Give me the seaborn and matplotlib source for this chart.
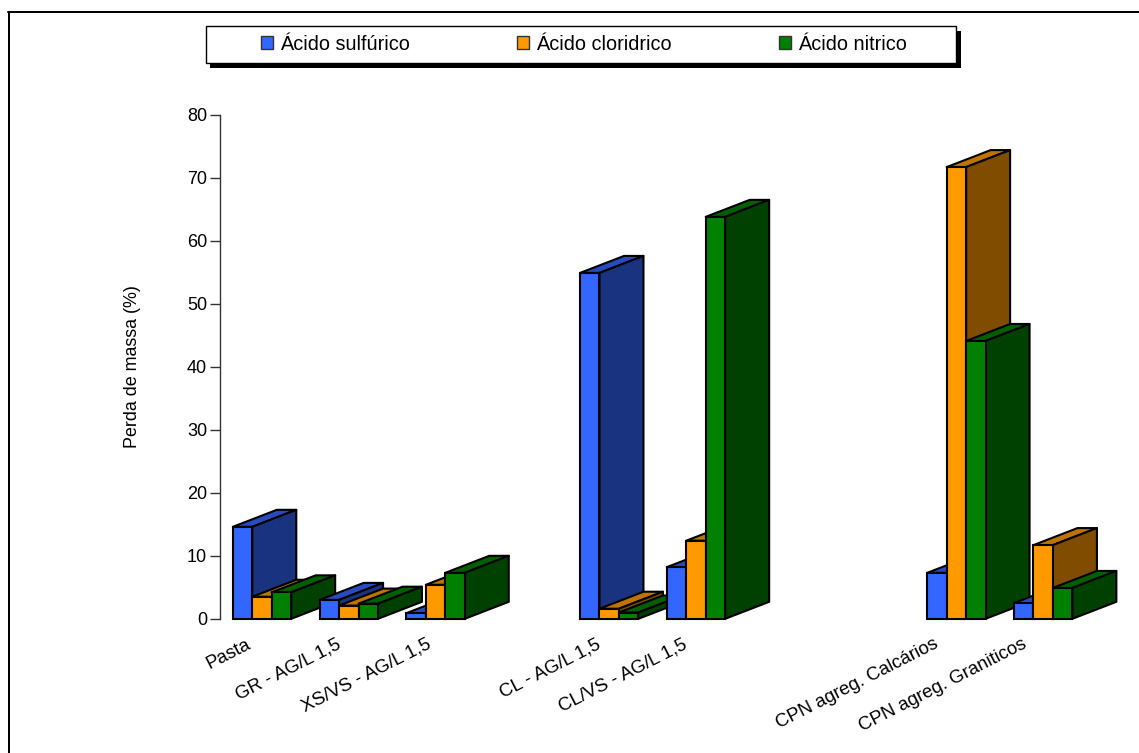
#acid attack chart - mass loss per mix
import numpy as np
import pandas as pd
import matplotlib.pyplot as plt
from matplotlib.patches import Polygon, Rectangle
from matplotlib.transforms import ScaledTranslation
import seaborn as sns

#data
categories = ["Pasta", "GR - AG/L 1,5", "XS/VS - AG/L 1,5", "CL - AG/L 1,5", "CL/VS - AG/L 1,5",
              "CPN agreg. Calcários", "CPN agreg. Graniticos"]
# empty slots on the axis between the groups
slots = ["Pasta", "GR - AG/L 1,5", "XS/VS - AG/L 1,5", " ", "CL - AG/L 1,5", "CL/VS - AG/L 1,5",
         "  ", "   ", "CPN agreg. Calcários", "CPN agreg. Graniticos"]
acids = ["Ácido sulfúrico", "Ácido cloridrico", "Ácido nitrico"]
sulfurico = [14.6, 3.0, 0.9, 54.9, 8.2, 7.3, 2.5]
cloridrico = [3.5, 2.1, 5.4, 1.6, 12.4, 71.7, 11.7]
nitrico = [4.2, 2.4, 7.3, 1.0, 63.8, 44.1, 4.9]

front_colors = ["#3366FF", "#FF9900", "#008000"]
top_colors = ["#264CBF", "#BF7300", "#006000"]
side_colors = ["#1A3380", "#804D00", "#004000"]

df = pd.DataFrame({"cat": categories, acids[0]: sulfurico, acids[1]: cloridrico, acids[2]: nitrico})
df = df.melt(id_vars="cat", var_name="acid", value_name="loss")

sns.set_theme(style="white")
plt.rcParams["font.family"] = ["Liberation Sans", "DejaVu Sans"]

W, H = 1139, 753
fig = plt.figure(figsize=(W / 100, H / 100), dpi=100)
slot_w = 86.8
ax = fig.add_axes([219.6 / W, 1 - 618.8 / H, slot_w * 10 / W, 504 / H])
sns.barplot(data=df, x="cat", y="loss", hue="acid", order=slots, hue_order=acids,
            palette=front_colors, width=0.672, gap=0, saturation=1, legend=False,
            edgecolor="black", linewidth=1.5, ax=ax)
# axis line sits one pixel left of the first slot edge
ax.set_xlim(-0.5 + 1 / slot_w, 9.5 + 1 / slot_w)
ax.set_ylim(0, 80)

#3d look, depth is in pixels
depth_x = 44 / slot_w
depth_y = 17 / (504 / 80)
z = 3
bars = []
for i, cont in enumerate(ax.containers):
    for b in cont:
        if b.get_height() > 0:
            bars.append((b.get_x(), i, b))
bars.sort(key=lambda t: t[0])
for x0, i, b in bars:
    x1 = x0 + b.get_width()
    h = b.get_height()
    ax.add_patch(Polygon([(x0, h), (x1, h), (x1 + depth_x, h + depth_y), (x0 + depth_x, h + depth_y)],
                         closed=True, fc=top_colors[i], ec="black", lw=1.5, joinstyle="round",
                         zorder=z, clip_on=False))
    ax.add_patch(Polygon([(x1, 0), (x1 + depth_x, depth_y), (x1 + depth_x, h + depth_y), (x1, h)],
                         closed=True, fc=side_colors[i], ec="black", lw=1.5, joinstyle="round",
                         zorder=z + 0.1, clip_on=False))
    b.set_zorder(z + 0.2)
    b.set_clip_on(False)
    z += 1

#axes
sns.despine(ax=ax, top=True, right=True, bottom=True)
ax.spines["left"].set_color("#333333")
ax.spines["left"].set_linewidth(1)
ax.set_yticks(np.arange(0, 81, 10))
ax.tick_params(axis="y", left=True, length=7.5, width=1, color="#333333", pad=1.5,
               labelsize=13, labelcolor="black")
ax.tick_params(axis="x", bottom=False, length=0, pad=12, labelsize=13.4, labelcolor="black")
ax.set_xlabel("")
ax.set_ylabel("Perda de massa (%)", fontsize=12.9, color="black")
ax.yaxis.set_label_coords(141 / W, 1 - 367 / H, transform=fig.transFigure)

# the labels do not sit the same distance from their groups, shift in pixels
label_shift = {"Pasta": -16, "GR - AG/L 1,5": -13, "XS/VS - AG/L 1,5": -10, "CL - AG/L 1,5": -14,
               "CL/VS - AG/L 1,5": -14, "CPN agreg. Calcários": -23, "CPN agreg. Graniticos": -22}
for lab in ax.get_xticklabels():
    lab.set_rotation(27)
    lab.set_ha("right")
    lab.set_rotation_mode("anchor")
    dx = label_shift.get(lab.get_text(), 0) / 100
    lab.set_transform(lab.get_transform() + ScaledTranslation(dx, 0, fig.dpi_scale_trans))

#outer frame, only top and left lines show
fig.add_artist(plt.Line2D([9 / W, 9 / W], [0, 1 - 12 / H], color="black", lw=1.44))
fig.add_artist(plt.Line2D([8 / W, 1], [1 - 12 / H, 1 - 12 / H], color="black", lw=1.44))

#legend box with shadow
fig.add_artist(Rectangle((210 / W, 1 - 67.5 / H), 750.5 / W, 37 / H, transform=fig.transFigure,
                         fc="black", ec="black", lw=0, zorder=5))
fig.add_artist(Rectangle((205.5 / W, 1 - 63 / H), 750.5 / W, 37 / H, transform=fig.transFigure,
                         fc="white", ec="black", lw=1, zorder=6))
handles = [Rectangle((0, 0), 1, 1, fc=c, ec="#333333", lw=1) for c in front_colors]
leg = fig.legend(handles, acids, ncol=3, loc="center", bbox_to_anchor=(584 / W, 1 - 44 / H),
                 frameon=False, fontsize=14.3, handlelength=0.6, handleheight=0.6, handletextpad=0.35,
                 columnspacing=5.4, borderpad=0, labelcolor="black")
leg.set_zorder(7)

fig.savefig("out.png", dpi=100)
